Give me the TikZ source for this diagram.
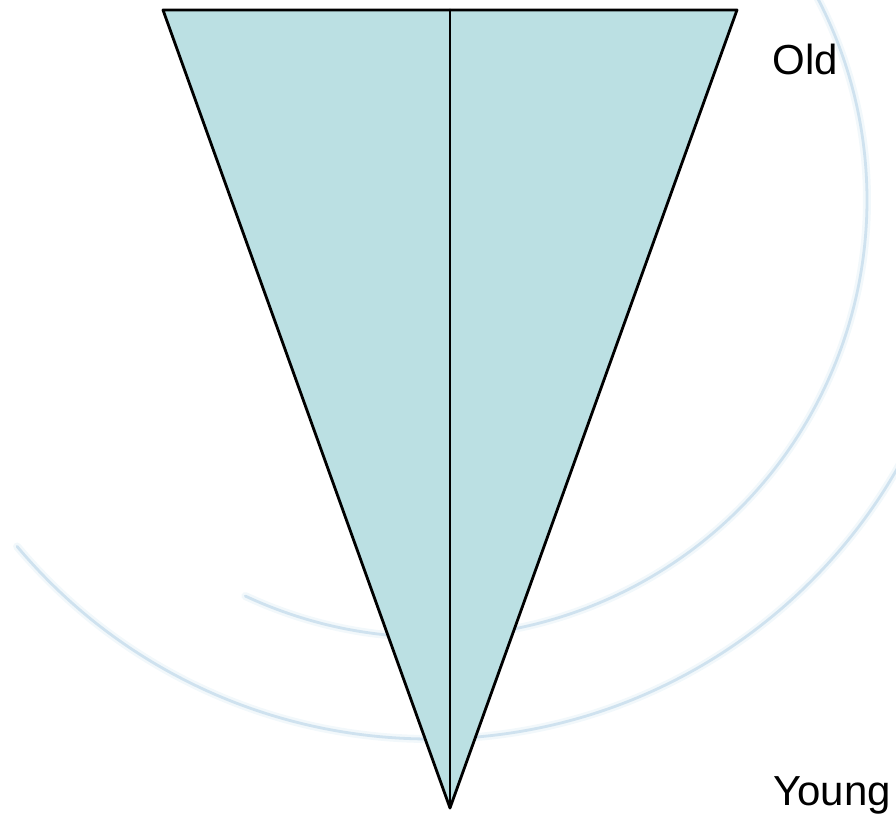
\documentclass[tikz,border=0pt]{standalone}
\usepackage{fontspec}
\setmainfont{Liberation Sans}
\providecommand{\Cone}{BBE0E3}
\providecommand{\Ring}{CFE2EF}
\providecommand{\Halo}{F2F8FB}
\newcommand{\Unit}{0.5pt}
\newcommand{\Edge}{1.4pt}
\newcommand{\InnerR}{437}
\newcommand{\OuterR}{539}
\definecolor{cone}{HTML}{\Cone}
\definecolor{ring}{HTML}{\Ring}
\definecolor{halo}{HTML}{\Halo}
\definecolor{ink}{HTML}{000000}

\begin{document}
\begin{tikzpicture}[x=\Unit,y=\Unit, line join=round, line cap=round]

  \useasboundingbox (0,0) rectangle (896,814);
  \clip (0,0) rectangle (896,814);

  % ---- the rings, behind everything --------------------------------------
  \coordinate (hub) at (430,614);
  \foreach \r/\a/\b in {\InnerR/-115/30, \OuterR/-140/-10} {
    \draw[halo,line width=4pt] (hub) ++(\a:\r) arc[start angle=\a,end angle=\b,radius=\r];
    \draw[ring,line width=1.4pt] (hub) ++(\a:\r) arc[start angle=\a,end angle=\b,radius=\r];
  }

  % ---- the cone -----------------------------------------------------------
  \coordinate (tl) at (163,804);
  \coordinate (tr) at (737,804);
  \coordinate (apex) at (450,6);
  \coordinate (mid) at (450,804);
  \fill[cone,draw=ink,line width=\Edge] (tl) -- (tr) -- (apex) -- cycle;
  \draw[ink,line width=\Edge] (mid) -- (apex);

  % ---- labels -------------------------------------------------------------
  \node[anchor=base west,inner sep=0pt,font=\fontsize{21}{25}\selectfont] (old) at (772,739) {Old};
  \node[anchor=base west,inner sep=0pt,font=\fontsize{21}{25}\selectfont] (young) at (773,8) {Young};

\end{tikzpicture}
\end{document}
